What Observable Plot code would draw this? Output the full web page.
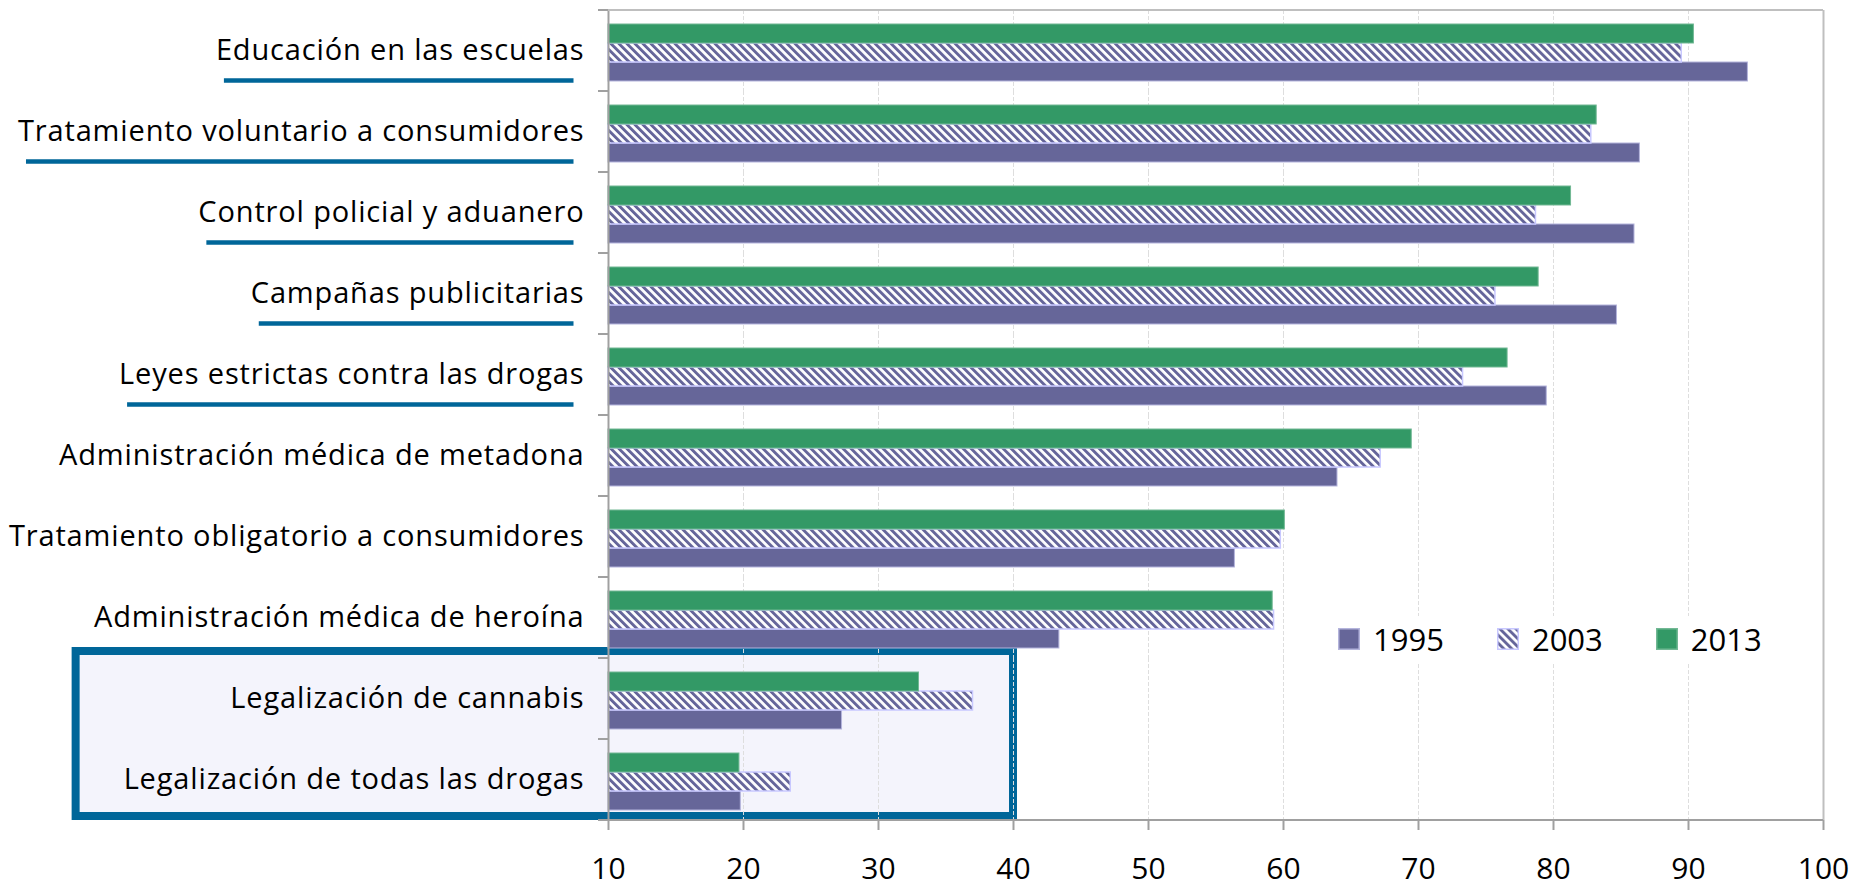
<!DOCTYPE html>
<html>
<head>
<meta charset="utf-8">
<script src="https://cdn.jsdelivr.net/npm/d3@7"></script>
<script src="https://cdn.jsdelivr.net/npm/@observablehq/plot@0.6"></script>
<style>
  html, body { margin: 0; padding: 0; background: #fff; }
  #wrap { position: relative; width: 1858px; height: 890px; font-family: "Open Sans", sans-serif; }
  #legend { position: absolute; left: 1325px; top: 616px; height: 46px; background: #fff;
            display: flex; align-items: center; padding: 0 13px; font-size: 31px; color: #000; }
  #legend .item { display: flex; align-items: center; margin-right: 53px; }
  #legend .item:last-child { margin-right: 0; }
  #legend svg { margin-right: 13px; }
</style>
</head>
<body>
<svg width="0" height="0" style="position:absolute">
  <defs>
    <pattern id="hatch" patternUnits="userSpaceOnUse" width="5.66" height="5.66" patternTransform="rotate(-45)">
      <rect width="5.66" height="5.66" fill="#ffffff"></rect>
      <rect width="2.9" height="5.66" fill="#65659a"></rect>
    </pattern>
  </defs>
</svg>
<div id="wrap">
  <div id="chart"></div>
  <div id="legend"></div>
</div>
<script>
// ---- data ----
const categories = [
  "Educación en las escuelas",
  "Tratamiento voluntario a consumidores",
  "Control policial y aduanero",
  "Campañas publicitarias",
  "Leyes estrictas contra las drogas",
  "Administración médica de metadona",
  "Tratamiento obligatorio a consumidores",
  "Administración médica de heroína",
  "Legalización de cannabis",
  "Legalización de todas las drogas"
];
const years = ["1995", "2003", "2013"];
const v1995 = [94.4, 86.4, 86.0, 84.7, 79.5, 64.0, 56.4, 43.4, 27.3, 19.8];
const v2003 = [89.5, 82.8, 78.7, 75.7, 73.3, 67.2, 59.8, 59.3, 37.0, 23.5];
const v2013 = [90.4, 83.2, 81.3, 78.9, 76.6, 69.5, 60.1, 59.2, 33.0, 19.7];
const xTicks = [10, 20, 30, 40, 50, 60, 70, 80, 90, 100];
const underlined = categories.slice(0, 5);
const highlighted = categories.slice(8, 10);
const highlightTo = 40;

(function () {
  // ---- styles ----
  const fills = { "1995": "#666699", "2003": "url(#hatch)", "2013": "#339966" };
  const strokes = { "1995": "#b4b4dc", "2003": "#c8c8ff", "2013": "#72b894" };
  const blue = "#006699";

  const series = { "1995": v1995, "2003": v2003, "2013": v2013 };
  const rows = categories.flatMap((c, i) => years.map(y => ({ category: c, year: y, value: series[y][i] })));
  const xMin = xTicks[0], xMax = xTicks[xTicks.length - 1];

  const barMarks = years.map(y => Plot.barX(rows.filter(d => d.year === y), {
    fy: "category", y: "year", x1: xMin, x2: "value",
    fill: fills[y], stroke: strokes[y], strokeWidth: y === "2003" ? 1.5 : 1
  }));

  const plot = Plot.plot({
    width: 1858,
    height: 890,
    marginLeft: 608,
    marginRight: 35,
    marginTop: 7,
    marginBottom: 67,
    style: { fontFamily: "'Open Sans', sans-serif", fontSize: "28px", color: "#000", background: "transparent", overflow: "visible" },
    x: { domain: [xMin, xMax] },
    y: { domain: ["2013", "2003", "1995"], paddingInner: 0, paddingOuter: 0.62, align: 0.57, axis: null },
    fy: { domain: categories, padding: 0 },
    marks: [
      Plot.gridX(xTicks.slice(1, -1), { stroke: "#dedede", strokeOpacity: 1, strokeDasharray: "4,2" }),
      ...barMarks,
      Plot.ruleX([xMax], { stroke: "#bfbfbf", strokeWidth: 2 }),
      Plot.ruleX([xMin], { stroke: "#a0a0a0", strokeWidth: 2 }),
      Plot.axisFy({ anchor: "left", tickSize: 0, tickPadding: 24, fontSize: 29, label: null }),
      Plot.axisX(xTicks, { anchor: "bottom", tickSize: 10, tickPadding: 27, fontSize: 30, label: null, stroke: "#a0a0a0", strokeWidth: 2 })
    ]
  });
  document.getElementById("chart").appendChild(plot);

  // wider lettering for category labels (the original uses a wide geometric face)
  d3.select(plot).selectAll('g[aria-label="fy-axis tick label"]').attr("letter-spacing", "0.85px");

  // ---- annotations via the plot's scales ----
  const svg = d3.select(plot);
  const fy = plot.scale("fy");
  const x = plot.scale("x");
  const bw = fy.bandwidth;
  const topY = fy.apply(categories[0]);
  const bottomY = fy.apply(categories[categories.length - 1]) + bw;
  const x0 = x.apply(xMin), x1 = x.apply(xMax);

  const svgRect = plot.getBoundingClientRect();
  const labelNodes = Array.from(plot.querySelectorAll('g[aria-label="fy-axis tick label"] text'));
  const labelBox = {};
  labelNodes.forEach(t => {
    const r = t.getBoundingClientRect();
    labelBox[t.textContent] = { left: r.left - svgRect.left, right: r.right - svgRect.left };
  });

  // highlight box behind everything
  const hlLeft = Math.min(...highlighted.map(c => labelBox[c] ? labelBox[c].left : x0)) - 48;
  const hlTop = fy.apply(highlighted[0]) - 7;
  const firstMarkGroup = plot.querySelector('g[aria-label]');
  const box = document.createElementNS("http://www.w3.org/2000/svg", "rect");
  box.setAttribute("x", hlLeft);
  box.setAttribute("y", hlTop);
  box.setAttribute("width", x.apply(highlightTo) - hlLeft);
  box.setAttribute("height", bottomY - 4 - hlTop);
  box.setAttribute("fill", "#f4f4fc");
  box.setAttribute("stroke", blue);
  box.setAttribute("stroke-width", 8);
  plot.insertBefore(box, firstMarkGroup);

  const overlay = svg.append("g");
  overlay.append("line").attr("x1", x0).attr("x2", x1).attr("y1", topY).attr("y2", topY)
    .attr("stroke", "#bfbfbf").attr("stroke-width", 2);
  overlay.append("line").attr("x1", x0 - 10).attr("x2", x1).attr("y1", bottomY).attr("y2", bottomY)
    .attr("stroke", "#a0a0a0").attr("stroke-width", 2);
  categories.forEach(c => {
    const yb = fy.apply(c);
    overlay.append("line").attr("x1", x0 - 10).attr("x2", x0).attr("y1", yb).attr("y2", yb)
      .attr("stroke", "#a0a0a0").attr("stroke-width", 2);
  });
  underlined.forEach(c => {
    const b = labelBox[c];
    if (!b) return;
    const yy = fy.apply(c) + bw / 2 + 30;
    overlay.append("line").attr("x1", b.left + 8).attr("x2", b.right - 11).attr("y1", yy).attr("y2", yy)
      .attr("stroke", blue).attr("stroke-width", 4.5);
  });

  // ---- legend ----
  const legend = d3.select("#legend");
  years.forEach(y => {
    const it = legend.append("div").attr("class", "item");
    const s = it.append("svg").attr("width", 22).attr("height", 22);
    s.append("rect").attr("x", 0.75).attr("y", 0.75).attr("width", 20.5).attr("height", 20.5)
      .attr("fill", fills[y]).attr("stroke", strokes[y]).attr("stroke-width", 1.5);
    it.append("span").text(y);
  });
})();
</script>
</body>
</html>
